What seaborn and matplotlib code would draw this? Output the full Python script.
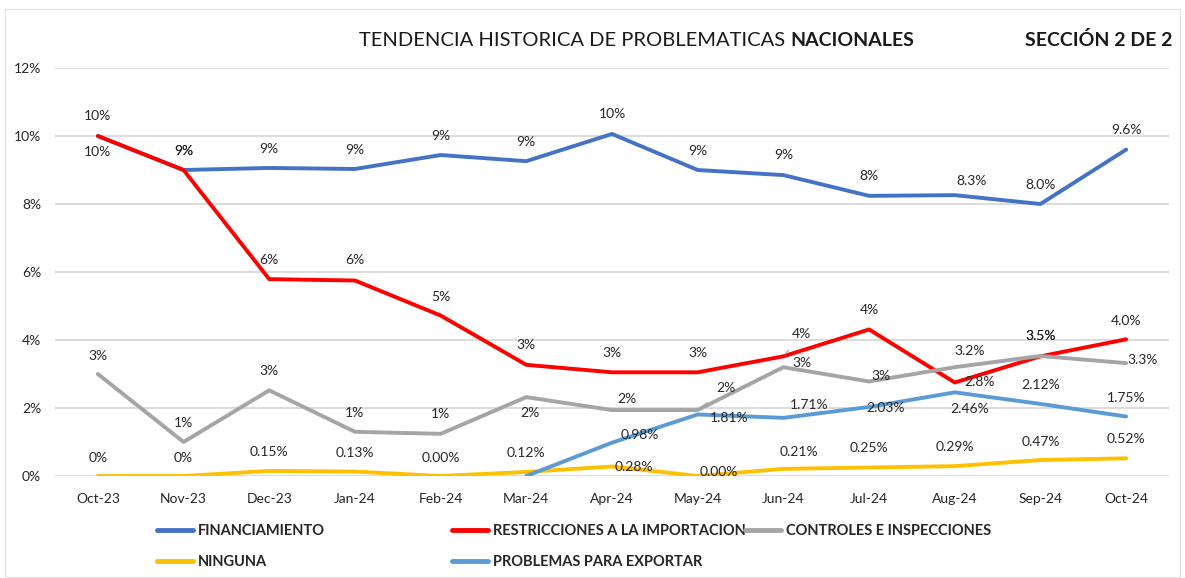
import numpy as np
import pandas as pd
import seaborn as sns
import matplotlib.pyplot as plt
from matplotlib import font_manager
from matplotlib.ticker import PercentFormatter
from matplotlib.lines import Line2D
from matplotlib.patches import Rectangle

# datos (en %)
meses = ['Oct-23', 'Nov-23', 'Dec-23', 'Jan-24', 'Feb-24', 'Mar-24', 'Apr-24',
         'May-24', 'Jun-24', 'Jul-24', 'Aug-24', 'Sep-24', 'Oct-24']

financiamiento = [10.0, 9.0, 9.06, 9.03, 9.44, 9.26, 10.06, 9.0, 8.85, 8.24, 8.26, 8.0, 9.6]
restricciones = [10.0, 9.0, 5.79, 5.75, 4.72, 3.27, 3.05, 3.05, 3.52, 4.31, 2.75, 3.52, 4.02]
controles = [3.0, 1.0, 2.52, 1.3, 1.24, 2.32, 1.94, 1.94, 3.2, 2.78, 3.2, 3.53, 3.32]
ninguna = [0.0, 0.0, 0.15, 0.13, 0.0, 0.12, 0.28, 0.0, 0.21, 0.25, 0.29, 0.47, 0.52]
exportar = [np.nan, np.nan, np.nan, np.nan, np.nan, 0.0, 0.98, 1.81, 1.71, 2.03, 2.46, 2.12, 1.75]

# etiquetas de datos tal como aparecen
etq_fin = ['10%', '9%', '9%', '9%', '9%', '9%', '10%', '9%', '9%', '8%', '8.3%', '8.0%', '9.6%']
etq_res = ['10%', '9%', '6%', '6%', '5%', '3%', '3%', '3%', '4%', '4%', '2.8%', '3.5%', '4.0%']
etq_con = ['3%', '1%', '3%', '1%', '1%', '2%', '2%', '2%', '3%', '3%', '3.2%', '3.5%', '3.3%']
etq_nin = ['0%', '0%', '0.15%', '0.13%', '0.00%', '0.12%', '0.28%', '0.00%', '0.21%',
           '0.25%', '0.29%', '0.47%', '0.52%']
etq_exp = ['', '', '', '', '', '', '0.98%', '1.81%', '1.71%', '2.03%', '2.46%', '2.12%', '1.75%']

series = ['FINANCIAMIENTO', 'RESTRICCIONES A LA IMPORTACION', 'CONTROLES E INSPECCIONES',
          'NINGUNA', 'PROBLEMAS PARA EXPORTAR']
colores = ['#4472C4', '#FF0000', '#A5A5A5', '#FFC000', '#5B9BD5']

# posicion de cada etiqueta respecto al punto (pixeles)
off_fin = [(0, 20), (0, 19), (0, 19), (0, 19), (0, 19), (0, 19), (0, 20), (0, 19), (0, 20),
           (0, 20), (17, 14), (0, 19), (0, 20)]
off_res = [(0, -16), (0, 19), (0, 19), (0, 20), (0, 19), (0, 20), (0, 19), (0, 19), (18, 22),
           (0, 19), (25, 0), (0, 20), (0, 18)]
off_con = [(0, 18), (0, 19), (0, 19), (0, 19), (0, 20), (4, -16), (15, 11), (28, 22), (19, 4),
           (12, 5), (15, 16), (0, 20), (16, 3)]
off_nin = [(0, 18), (0, 18), (0, 19), (0, 19), (0, 18), (0, 19), (22, -1), (21, 4), (16, 17),
           (0, 19), (0, 19), (0, 18), (0, 19)]
off_exp = [(0, 0)] * 6 + [(28, 8), (31, -4), (26, 13), (16, -1), (15, -17), (0, 19), (0, 19)]

valores = [financiamiento, restricciones, controles, ninguna, exportar]
etiquetas = [etq_fin, etq_res, etq_con, etq_nin, etq_exp]
offsets = [off_fin, off_res, off_con, off_nin, off_exp]
# etiquetas con linea guia: (serie, mes)
guias = {(1, 8), (2, 7)}

filas = []
for s, vals in zip(series, valores):
    for i, v in enumerate(vals):
        filas.append({'serie': s, 'idx': i, 'valor': v})
df = pd.DataFrame(filas).dropna()

sns.set_theme(style='white')
nombres = {f.name for f in font_manager.fontManager.ttflist}
fuente = 'Liberation Sans Narrow' if 'Liberation Sans Narrow' in nombres else 'Lato'
plt.rcParams['font.family'] = [fuente, 'DejaVu Sans']

fig = plt.figure(figsize=(11.85, 5.78), dpi=100)
ax = fig.add_axes([55 / 1185, 1 - 476 / 578, 1114 / 1185, 408 / 578])

sns.lineplot(data=df, x='idx', y='valor', hue='serie', hue_order=series,
             palette=colores, linewidth=2.8, sort=False, legend=False, ax=ax)

txt = '#262626'
for k, (vals, etq, offs) in enumerate(zip(valores, etiquetas, offsets)):
    for i, (v, e, o) in enumerate(zip(vals, etq, offs)):
        if e == '' or np.isnan(v):
            continue
        kw = {}
        if (k, i) in guias:
            kw['arrowprops'] = dict(arrowstyle='-', color='#A6A6A6', lw=0.8,
                                    shrinkA=6, shrinkB=2)
        ax.annotate(e, (i, v), xytext=o, textcoords='offset pixels',
                    ha='center', va='center', fontsize=10, color=txt, **kw)

ax.set_xlim(-0.5, len(meses) - 0.5)
ax.set_ylim(0, 12)
ax.set_yticks(range(0, 13, 2))
ax.yaxis.set_major_formatter(PercentFormatter(100, decimals=0))
ax.set_xticks(range(len(meses)))
ax.set_xticklabels(meses)
ax.set_xlabel('')
ax.set_ylabel('')
ax.tick_params(axis='both', length=0, labelsize=10, colors=txt)
ax.tick_params(axis='x', pad=12)
ax.tick_params(axis='y', pad=10)
ax.grid(axis='y', color='#D9D9D9', linewidth=1.3)
ax.set_axisbelow(True)
for sp in ax.spines.values():
    sp.set_visible(False)

# titulo
fig.text(785 / 1185, 1 - 40 / 578, 'TENDENCIA HISTORICA DE PROBLEMATICAS', ha='right',
         va='center', fontsize=14.5, color='#1a1a1a')
fig.text(790 / 1185, 1 - 40 / 578, 'NACIONALES', ha='left', va='center', fontsize=14,
         fontweight='bold', color='#1a1a1a')
fig.text(1172 / 1185, 1 - 40 / 578, 'SECCIÓN 2 DE 2', ha='right', va='center', fontsize=14,
         fontweight='bold', color='#1a1a1a')

# leyenda en tres bloques como en el original
h = [Line2D([], [], color=c, linewidth=3.5) for c in colores]
bloques = [([0, 3], 157), ([1, 4], 452), ([2], 745)]
for idxs, x0 in bloques:
    fig.legend([h[i] for i in idxs], [series[i] for i in idxs], loc='upper left',
               bbox_to_anchor=(x0 / 1185, 1 - 524 / 578), frameon=False,
               prop={'weight': 'bold', 'size': 10.5}, handlelength=2.5,
               handletextpad=0.3, labelspacing=1.15, borderpad=0, borderaxespad=0,
               labelcolor=txt)

fig.patches.append(Rectangle((5 / 1185, 0.002), 1 - 10 / 1185, 1 - 10 / 578,
                             transform=fig.transFigure, fill=False,
                             edgecolor='#E0E0E0', linewidth=0.8))

fig.savefig('out.png', dpi=100)
